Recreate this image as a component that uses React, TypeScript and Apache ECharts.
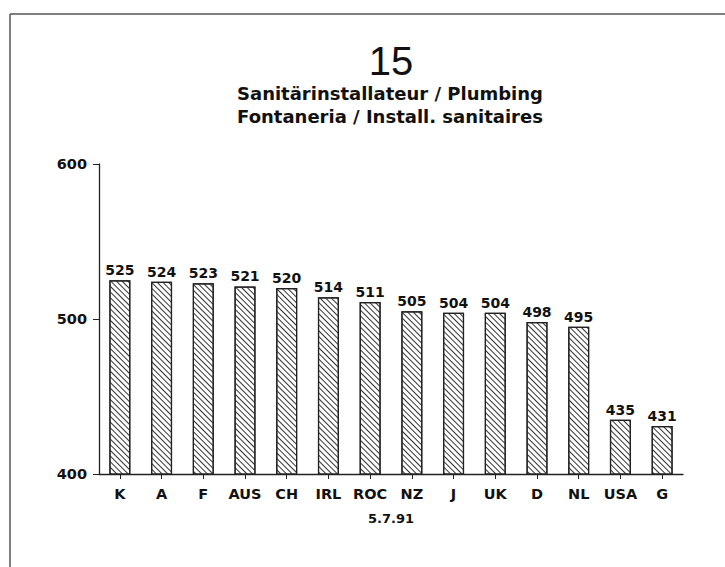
import React, { useEffect, useRef } from "react";
import * as echarts from "echarts";

const categories = ["K", "A", "F", "AUS", "CH", "IRL", "ROC", "NZ", "J", "UK", "D", "NL", "USA", "G"];
const values = [525, 524, 523, 521, 520, 514, 511, 505, 504, 504, 498, 495, 435, 431];
const yTicks = [400, 500, 600];
const chartNumber = "15";
const subtitle1 = "Sanitärinstallateur / Plumbing";
const subtitle2 = "Fontaneria / Install. sanitaires";
const footer = "5.7.91";

const FONT = "'Liberation Sans', Arial, Helvetica, sans-serif";
const WIDE = "'DejaVu Sans', Verdana, sans-serif";

export default function App() {
  const ref = useRef<HTMLDivElement>(null);
  useEffect(() => {
    if (!ref.current) return;
    const chart = echarts.init(ref.current, null, { renderer: "svg" });
    chart.setOption({
      animation: false,
      backgroundColor: "#ffffff",
      grid: { left: 99, right: 42, top: 164, bottom: 93, containLabel: false },
      xAxis: {
        type: "category",
        data: categories,
        axisLine: { show: true, lineStyle: { color: "#222", width: 1.3 } },
        axisTick: { show: true, alignWithLabel: true, interval: 0, length: 5, lineStyle: { color: "#222", width: 1 } },
        axisLabel: {
          color: "#111",
          fontFamily: WIDE,
          fontWeight: "bold",
          fontSize: 14.5,
          margin: 12,
          interval: 0,
          hideOverlap: false,
        },
        splitLine: { show: false },
      },
      yAxis: {
        type: "value",
        min: yTicks[0],
        max: yTicks[yTicks.length - 1],
        interval: 100,
        axisLine: { show: true, lineStyle: { color: "#222", width: 1.3 } },
        axisTick: { show: true, length: 6, lineStyle: { color: "#222", width: 1 } },
        axisLabel: { color: "#111", fontFamily: WIDE, fontWeight: "bold", fontSize: 14.5, margin: 12 },
        splitLine: { show: false },
      },
      series: [
        {
          type: "bar",
          data: values,
          barWidth: 21,
          itemStyle: {
            color: "#ffffff",
            borderColor: "#222",
            borderWidth: 1.2,
            decal: {
              symbol: "rect",
              symbolSize: 1,
              color: "#333",
              dashArrayX: [1, 0],
              dashArrayY: [1, 3],
              rotation: Math.PI / 4,
            },
          },
          label: {
            show: true,
            position: "top",
            distance: 3,
            color: "#111",
            fontFamily: WIDE,
            fontWeight: "bold",
            fontSize: 14,
          },
        },
      ],
      graphic: [
        { type: "line", shape: { x1: 10, y1: 14, x2: 725, y2: 14 }, style: { stroke: "#555", lineWidth: 1.5 } },
        { type: "line", shape: { x1: 10, y1: 14, x2: 10, y2: 567 }, style: { stroke: "#555", lineWidth: 1.5 } },
        {
          type: "text",
          x: 391,
          y: 61,
          style: { text: chartNumber, fontFamily: FONT, fontSize: 40, fill: "#111", align: "center", verticalAlign: "middle" },
        },
        {
          type: "text",
          x: 390,
          y: 93,
          style: { text: subtitle1, fontFamily: WIDE, fontWeight: "bold", fontSize: 18, fill: "#111", align: "center", verticalAlign: "middle" },
        },
        {
          type: "text",
          x: 390,
          y: 116,
          style: { text: subtitle2, fontFamily: WIDE, fontWeight: "bold", fontSize: 18, fill: "#111", align: "center", verticalAlign: "middle" },
        },
        {
          type: "text",
          x: 391,
          y: 518,
          style: { text: footer, fontFamily: WIDE, fontSize: 13, fontWeight: "bold", fill: "#111", align: "center", verticalAlign: "middle" },
        },
      ],
    });
    return () => chart.dispose();
  }, []);
  return <div ref={ref} style={{ position: "fixed", left: 0, top: 0, width: 725, height: 567 }} />;
}
